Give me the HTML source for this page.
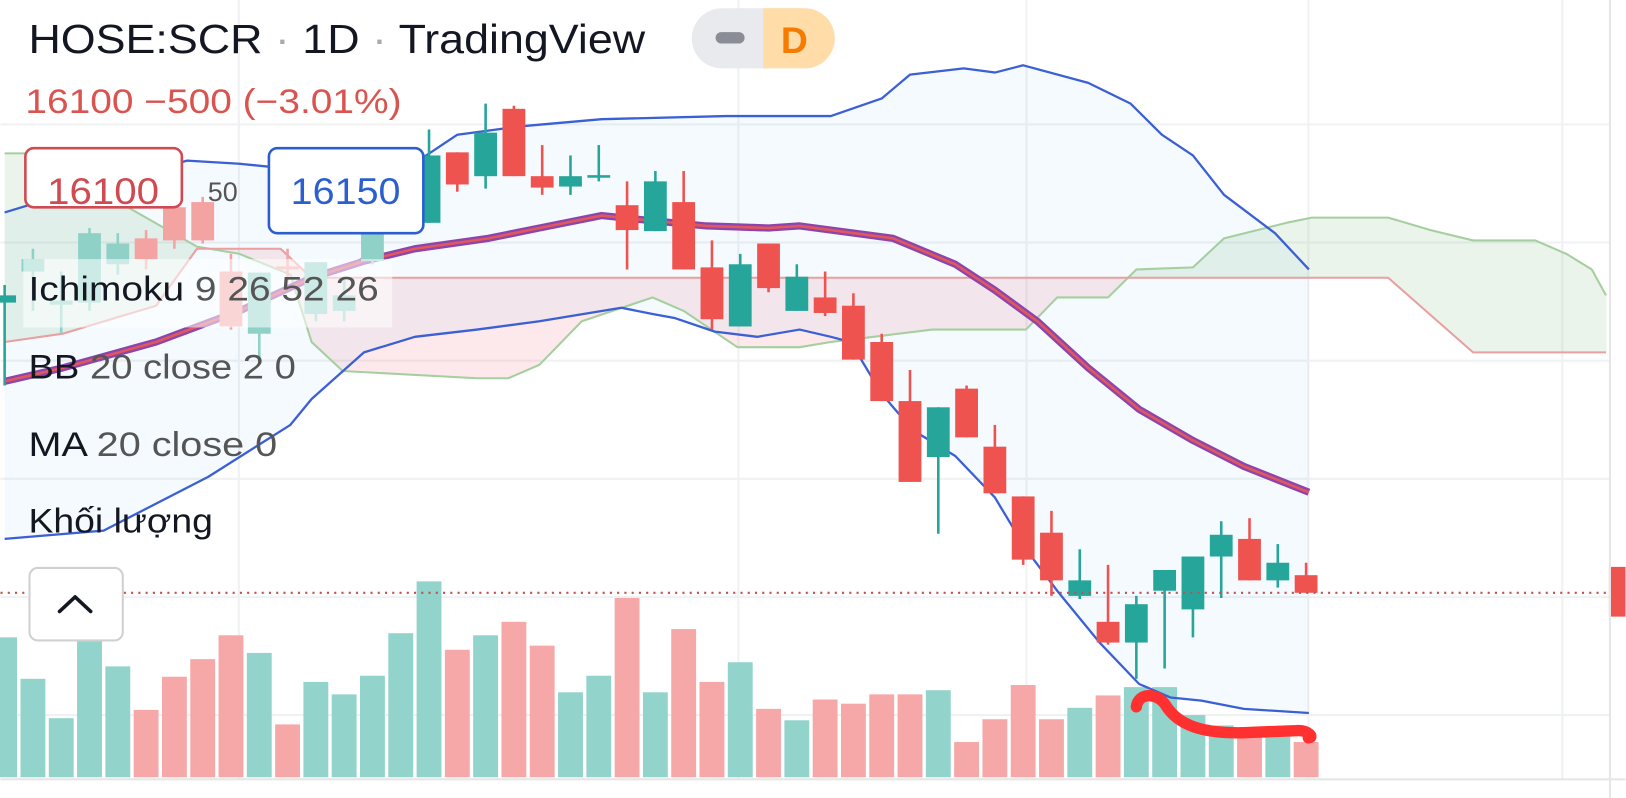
<!DOCTYPE html>
<html><head><meta charset="utf-8"><style>
html,body{margin:0;padding:0;background:#fff;overflow:hidden}
svg{display:block;font-family:"Liberation Sans",sans-serif}
</style></head><body>
<svg id="chart" width="1626" height="798" viewBox="0 0 1568 770" xmlns="http://www.w3.org/2000/svg">
<g id="grid"></g>
<g id="cloud" opacity="0.1"></g>
<g id="bbfill"></g>
<g id="volume"></g>
<g id="lines"></g>
<g id="candles"></g>
<line x1="0" x2="1552" y1="572" y2="572" stroke="#c0504d" stroke-width="2" stroke-dasharray="2,5"/>
<rect x="1552" y="547" width="16" height="48" fill="#ef5350"/>
<line x1="1553" x2="1553" y1="0" y2="770" stroke="#e6e6e6" stroke-width="2"/>
<line x1="0" x2="1568" y1="752" y2="752" stroke="#e6e6e6" stroke-width="2"/>
<path d="M1096,682 C1098,668 1116,668 1124,680 C1136,700 1160,708 1200,707 L1250,705 C1262,704 1268,712 1262,712" fill="none" stroke="#ff3030" stroke-width="11" stroke-linecap="round"/>
<g id="legend">
<text x="27" y="51" font-size="39" fill="#131722" textLength="595" lengthAdjust="spacingAndGlyphs">HOSE:SCR <tspan fill="#aaa">·</tspan> 1D <tspan fill="#aaa">·</tspan> TradingView</text>
<rect x="667" y="8" width="138" height="58" rx="29" fill="#e9eaee"/>
<path d="M736,8 H776 A29,29 0 0 1 776,66 H736 Z" fill="#ffdca8"/>
<rect x="690" y="31" width="28" height="11" rx="5.5" fill="#8a8d96"/>
<text x="753" y="51" font-size="36" font-weight="bold" fill="#f57c00">D</text>
<text x="24" y="109" font-size="33" fill="#d9534f" textLength="363" lengthAdjust="spacingAndGlyphs">16100  −500 (−3.01%)</text>
<rect x="24" y="143" width="151" height="57" rx="8" fill="#fff" stroke="#d04a52" stroke-width="2.5"/>
<text x="99" y="197" font-size="36" fill="#d04a52" text-anchor="middle" textLength="108" lengthAdjust="spacingAndGlyphs">16100</text>
<text x="200" y="194" font-size="26" fill="#555">50</text>
<rect x="259" y="143" width="149" height="82" rx="8" fill="#fff" stroke="#2b5fd0" stroke-width="2.5"/>
<text x="333" y="197" font-size="36" fill="#2b5fd0" text-anchor="middle" textLength="106" lengthAdjust="spacingAndGlyphs">16150</text>
<rect x="22" y="250" width="356" height="66" fill="#fff" opacity="0.55"/>
<text x="27" y="290" font-size="33" fill="#131722" textLength="338" lengthAdjust="spacingAndGlyphs">Ichimoku <tspan fill="#555">9 26 52 26</tspan></text>
<text x="27" y="365" font-size="33" fill="#131722" textLength="258" lengthAdjust="spacingAndGlyphs">BB <tspan fill="#555">20 close 2 0</tspan></text>
<text x="27" y="440" font-size="33" fill="#131722" textLength="240" lengthAdjust="spacingAndGlyphs">MA <tspan fill="#555">20 close 0</tspan></text>
<text x="27" y="514" font-size="33" fill="#131722" textLength="178" lengthAdjust="spacingAndGlyphs">Khối lượng</text>
<rect x="28" y="548" width="90" height="70" rx="8" fill="#fff" stroke="#d0d0d0" stroke-width="2"/>
<path d="M57,590 L72,576 L87,590" fill="none" stroke="#131722" stroke-width="3.5" stroke-linecap="round" stroke-linejoin="round"/>
</g>
<script>
// price data (price units)
const opens  = [18900,19200,18880,18900,19270,19520,19820,19870,19200,18600,19250,18790,18820,19300,19670,19670,20350,20120,20770,20120,20020,20110,19840,19590,19870,19240,18670,19470,18820,18950,18870,18520,17950,17410,18070,17510,17030,16680,16070,15820,15620,16120,15940,16450,16620,16220,16270];
const highs  = [19070,19420,19200,19620,19570,19600,19870,19920,19370,19190,19420,19290,19120,19770,20020,20570,20350,20820,20800,20420,20320,20420,20070,20170,20170,19500,19370,19470,19270,19200,18990,18600,18250,17890,18100,17720,17030,16890,16520,16370,16070,16320,16450,16790,16820,16570,16390];
const lows   = [18100,18820,18600,18820,19170,19220,19420,19470,18640,18320,19100,18720,18720,19270,19620,19670,19970,20000,20120,19940,19940,20070,19220,19590,19220,18640,18670,19000,18820,18770,18350,17950,17170,16670,17600,17060,16370,16070,16040,15600,15270,15370,15670,16050,16220,16150,16100];
const closes = [18970,19320,18920,19570,19470,19320,19500,19500,18670,19190,19220,19290,18970,19700,19920,20320,20040,20540,20120,20010,20120,20130,19600,20070,19220,18740,19270,19040,19150,18800,18350,17950,17170,17890,17600,17060,16420,16220,16220,15620,15990,16320,16450,16660,16220,16390,16100];
const volumes = [135,95,57,150,107,65,97,114,137,120,51,92,80,98,139,189,123,137,150,127,82,98,173,82,143,92,111,66,55,75,71,80,80,84,34,56,89,56,67,79,87,87,60,50,45,45,34];
// indicator knots: [bar index, price]
const maKnots = [[0,18140],[2.05,18270],[5.35,18520],[8.3,18820],[10.85,19140],[12.7,19300],[14.5,19420],[17.1,19520],[18.9,19620],[21.1,19740],[22.9,19690],[24.8,19640],[27,19620],[28.1,19640],[29.2,19600],[31.4,19520],[33.6,19270],[35,19020],[36.5,18720],[38.3,18270],[40.1,17870],[42,17570],[43.8,17320],[46.1,17070]];
const bbUpperKnots = [[0,19770],[2.05,19940],[6.45,20270],[8.3,20240],[10.85,20170],[12.7,20170],[14.9,20320],[16,20520],[18.2,20600],[21.1,20670],[25.5,20700],[29.2,20700],[31,20870],[32,21100],[33.9,21160],[35,21120],[36,21190],[38.3,21020],[39.8,20820],[40.9,20520],[42,20320],[43.1,19940],[44.9,19570],[46.1,19220]];
const bbLowerKnots = [[0,16620],[3.5,16700],[7.2,17220],[10.1,17720],[10.85,17970],[12.7,18420],[14.5,18570],[16.7,18640],[18.9,18720],[20,18770],[21.8,18850],[22.9,18790],[23.7,18750],[25.1,18620],[26.6,18570],[28.1,18640],[29.2,18570],[29.9,18520],[31,18020],[32.1,17670],[33.6,17420],[35,17020],[36.1,16520],[37.2,16120],[38.7,15620],[40.1,15220],[41.2,15090],[42.3,15060],[43.8,14980],[46.1,14940]];
const spanAKnots = [[0,20340],[1,20340],[6.8,19440],[8.3,19370],[10.1,19170],[10.85,18520],[11.95,18240],[16.7,18170],[17.8,18170],[18.9,18300],[20.4,18720],[22.9,18950],[24,18820],[25.9,18470],[28.1,18470],[29.2,18520],[32.8,18640],[36.1,18640],[37.2,18950],[39,18950],[40,19220],[42,19240],[43.1,19520],[45.3,19670],[46.2,19720],[48.9,19720],[50.4,19600],[51.9,19500],[54.1,19500],[55.2,19370],[56.1,19220],[56.6,18970]];
const spanBKnots = [[0,18520],[2.05,18600],[5.35,18870],[6.8,19420],[9.75,19420],[10.85,19140],[48.9,19140],[51.9,18420],[56.6,18420]];
const lastPrice = 16100;

const NS = "http://www.w3.org/2000/svg";
const X0 = 4, STEP = 27.3;
function xScale(i){ return X0 + STEP * i; }
function yScale(p){ return (21820 - p) / 10; }
function vScale(v){ return 750 - v; }
function mk(tag, attrs, parent){ const e = document.createElementNS(NS, tag); for (const k in attrs) e.setAttribute(k, attrs[k]); parent.appendChild(e); return e; }
function interp(knots, t){
  if (t <= knots[0][0]) return knots[0][1];
  for (let k = 1; k < knots.length; k++){
    if (t <= knots[k][0]){ const a = knots[k-1], b = knots[k]; return a[1] + (b[1]-a[1]) * (t-a[0]) / (b[0]-a[0]); }
  }
  return knots[knots.length-1][1];
}
function pathOf(knots){ return knots.map((k,j)=>(j?'L':'M')+xScale(k[0]).toFixed(1)+','+yScale(k[1]).toFixed(1)).join(' '); }

// grid
const grid = document.getElementById('grid');
[120,234,348,462,576,690].forEach(y=>{
  const l = mk('line',{x1:0,x2:1552,y1:y,y2:y,stroke:'#f0f1f3','stroke-width':2},grid);
  
  
});
[230,712,990,1262,1507].forEach(x=>{
  const l = mk('line',{x1:x,x2:x,y1:0,y2:752,stroke:'#f0f1f3','stroke-width':2},grid);
  
  
});

// ichimoku cloud (group opacity avoids overlap striping)
const cloud = document.getElementById('cloud');
const endA = spanAKnots[spanAKnots.length-1][0];
for (let t = 0; t < endA; t += 0.1){
  const t2 = Math.min(t + 0.1, endA);
  const a1 = interp(spanAKnots,t), a2 = interp(spanAKnots,t2), b1 = interp(spanBKnots,t), b2 = interp(spanBKnots,t2);
  const q = mk('polygon',{points:`${xScale(t)},${yScale(a1)} ${xScale(t2)+0.5},${yScale(a2)} ${xScale(t2)+0.5},${yScale(b2)} ${xScale(t)},${yScale(b1)}`, fill:(a1+a2 > b1+b2) ? '#43a047' : '#f23645'},cloud);
  
  
}
// bollinger fill
const bbf = document.getElementById('bbfill');
const upPts = bbUpperKnots.map(k=>xScale(k[0])+','+yScale(k[1]));
const loPts = bbLowerKnots.slice().reverse().map(k=>xScale(k[0])+','+yScale(k[1]));
const bpoly = mk('polygon',{points:upPts.concat(loPts).join(' '),fill:'rgba(33,150,243,0.05)'},bbf);



// volume
const vol = document.getElementById('volume');
volumes.forEach((v,i)=>{
  const up = closes[i] >= opens[i];
  const r = mk('rect',{x:xScale(i)-12,y:vScale(v),width:24,height:750-vScale(v),fill: up ? '#92d3cb' : '#f6a8a8'},vol);
  
  
});

// lines
const lines = document.getElementById('lines');
function addLine(knots, stroke, w, name, op){
  const p = mk('path',{d:pathOf(knots),fill:'none',stroke:stroke,'stroke-width':w,'stroke-linejoin':'round',opacity:op||1},lines);
  
  
}
addLine(spanAKnots,'#a5cf9f',2,'ichimoku-span-a');
addLine(spanBKnots,'#e8a0a0',2,'ichimoku-span-b');
addLine(bbUpperKnots,'#3b5fd4',2.2,'bb-upper-line');
addLine(bbLowerKnots,'#3b5fd4',2.2,'bb-lower-line');
addLine(maKnots,'#8e44ad',7,'ma-line-outer');
addLine(maKnots,'#e0585a',2.5,'ma-line');

// candles
const cg = document.getElementById('candles');
opens.forEach((o,i)=>{
  const c = closes[i], up = c >= o;
  const faded = i >= 1 && i <= 14;
  const col = up ? (faded ? '#8fd0c7' : '#26a69a') : (faded ? '#f4a3a3' : '#ef5350');
  const x = xScale(i);
  const w = mk('line',{x1:x,x2:x,y1:yScale(highs[i]),y2:yScale(lows[i]),stroke:col,'stroke-width':2.5},cg);
  
  
  const top = yScale(Math.max(o,c)), bot = yScale(Math.min(o,c));
  const b = mk('rect',{x:x-11,y:top,width:22,height:Math.max(2.5,bot-top),fill:col},cg);
  
  
});
</script>
</svg>
</body></html>
